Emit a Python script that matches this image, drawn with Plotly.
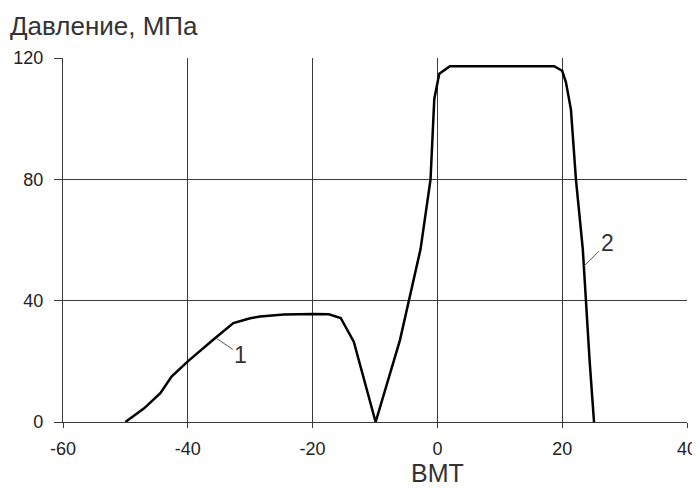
import plotly.graph_objects as go

# crank angle, deg (ВМТ = TDC) and pressure, MPa
angle = [-50, -47, -44.4, -42.6, -40, -37.5, -35.6, -32.7, -30, -28.4, -24.6,
         -20, -17.4, -15.5, -13.4, -9.9, -6, -2.7, -1.1, -0.5, 0.3, 2, 10,
         18.7, 20, 20.6, 21.4, 22.2, 23.3, 23.8, 24.4, 25.1]
pressure = [0, 4.5, 9.5, 15, 20, 24.5, 27.7, 32.6, 34.2, 34.8, 35.4,
            35.6, 35.5, 34.3, 26.5, 0, 27, 57, 80, 106.5, 114.8, 117.3, 117.3,
            117.3, 115.8, 112, 103, 80, 57, 40, 20, 0]

curve_labels = ["1", "2"]
label_x = [-35.5, 23.5]
label_y = [27.7, 51.4]

fig = go.Figure(go.Scatter(x=angle, y=pressure, mode="lines",
                           line=dict(color="black", width=2.5)))

for txt, lx, ly, ax, ay in zip(curve_labels, label_x, label_y, [25, 23], [17, -23]):
    fig.add_annotation(x=lx, y=ly, text=txt, showarrow=True, arrowhead=0,
                       arrowwidth=1, arrowcolor="#555", ax=ax, ay=ay,
                       font=dict(size=23, color="#333"), standoff=0)

fig.add_annotation(text="Давление, МПа", xref="paper", yref="paper",
                   x=-0.088, y=1.04, xanchor="left", yanchor="bottom",
                   showarrow=False, font=dict(size=26, color="#333"))

# x-axis title sits under the 0 (TDC) tick, not at the centre of the axis
fig.add_annotation(text="ВМТ", xref="x", yref="paper", x=0, y=-0.095,
                   xanchor="center", yanchor="top", showarrow=False,
                   font=dict(size=25, color="#333"))

grid = "#3a3a3a"
# the page body has an 8px margin, so the figure is sized to sit in the window
fig.update_layout(
    width=692, height=483,
    margin=dict(l=55, r=13, t=50, b=69),
    plot_bgcolor="white", paper_bgcolor="white",
    showlegend=False,
    font=dict(family="Liberation Sans, Arial, sans-serif", color="#222", size=18),
    xaxis=dict(range=[-60, 40], tickvals=[-60, -40, -20, 0, 20, 40],
               ticktext=["-60", "-40", "-20", "0", "20", "40"],
               showgrid=True, gridcolor=grid, gridwidth=1.2,
               showline=True, linecolor=grid, linewidth=1.2, mirror=False,
               ticks="outside", ticklen=5, tickcolor=grid, zeroline=False,
               ticklabelstandoff=5, automargin=False),
    yaxis=dict(range=[0, 120], tickvals=[0, 40, 80, 120],
               showgrid=True, gridcolor=grid, gridwidth=1.2,
               showline=True, linecolor=grid, linewidth=1.2,
               ticks="outside", ticklen=8, tickcolor=grid, zeroline=False,
               ticklabelstandoff=7, automargin=False),
)

fig.write_html("out.html")
